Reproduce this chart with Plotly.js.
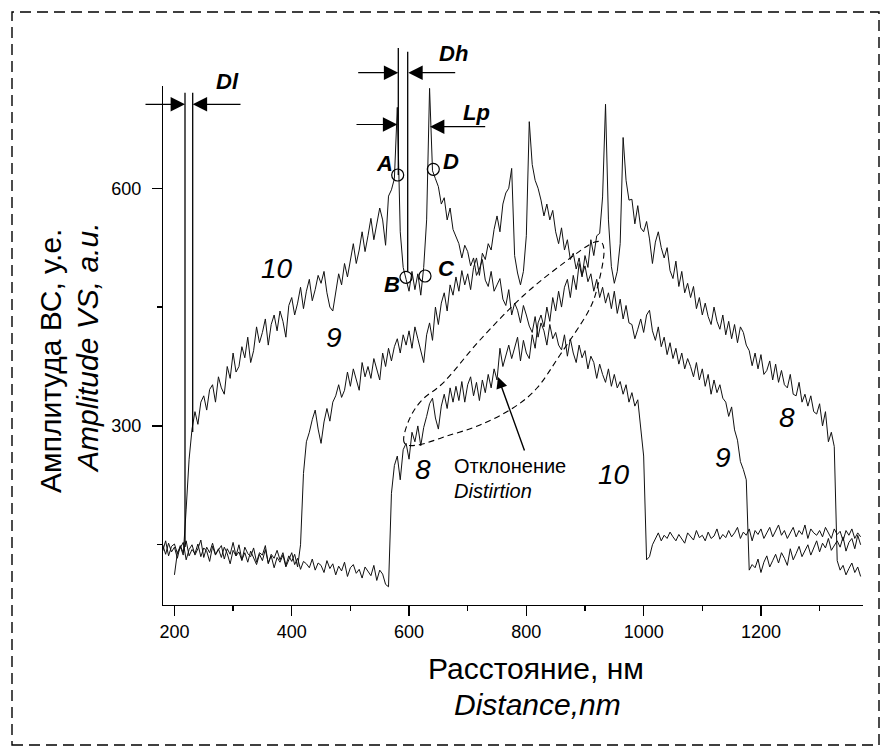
<!DOCTYPE html>
<html><head><meta charset="utf-8">
<script src="https://cdn.plot.ly/plotly-3.0.1.min.js"></script>
<style>html,body{margin:0;padding:0;background:#fff}</style>
</head><body>
<div id="chart" style="width:885px;height:752px"></div>
<script>
// ---- data (amplitude, a.u.) sampled every 5 nm ----
const stepNm = 5;
const start8 = 180, start9 = 180, start10 = 200;
const amp8 = [
150,138,152,141,147,133,149,140,155,136,
144,139,151,135,146,142,129,148,137,145,
134,147,139,126,143,136,150,131,140,128,
142,133,125,138,130,144,127,136,121,134,
128,137,122,131,140,125,133,119,129,126,
121,132,118,127,124,115,130,120,126,112,
123,117,128,110,121,125,114,119,108,122,
116,111,124,105,118,113,100,97,215,250,
262,232,270,278,258,292,280,300,275,298,
312,328,335,310,296,325,340,322,348,330,
350,332,356,330,352,362,338,355,332,358,
342,365,348,372,358,398,375,390,402,385,
400,412,382,408,392,385,415,398,430,440,
425,450,432,462,445,470,450,475,485,462,
490,472,505,488,515,500,535,515,540,543,
589,706,560,501,480,495,530,664,610,585,
586,555,578,550,545,558,536,505,532,545,
525,512,525,496,486,508,476,495,468,480,
462,476,448,462,440,455,438,428,450,432,
422,440,415,432,410,428,405,425,418,402,
395,376,392,372,390,365,370,382,358,378,
355,370,352,348,365,340,338,355,330,340,
325,338,318,315,328,300,318,280,292,274,
130,118,124,112,120,127,115,122,110];
const amp9 = [
142,155,136,148,151,139,146,153,131,144,
150,137,145,156,134,147,140,152,138,143,
149,132,145,138,153,136,141,130,147,139,
135,146,128,140,137,149,126,138,133,143,
131,140,124,136,129,138,122,150,240,280,
292,308,320,296,278,305,322,306,330,338,
352,336,345,368,350,372,358,345,380,362,
375,360,385,370,358,392,375,398,382,400,
410,392,415,402,420,398,425,410,395,380,
415,430,408,450,428,455,468,445,478,465,
488,470,496,478,492,472,500,512,490,518,
510,530,522,548,565,545,580,594,600,625,
515,493,478,495,540,684,630,610,600,585,
565,580,560,572,545,530,550,522,535,510,
518,498,512,490,502,482,492,470,485,462,
475,455,468,448,470,442,460,435,452,430,
428,410,422,435,418,440,446,420,408,425,
400,412,390,405,385,398,378,392,372,385,
375,362,380,358,372,350,365,340,358,342,
352,335,330,312,324,295,282,255,245,232,
118,125,121,132,115,128,136,122,130,138,
127,140,133,124,145,131,139,148,135,142,
150,137,145,155,141,152,146,158,143,150,
155,147,160,142,153,158,145,162,150];
const amp10 = [
112,140,148,137,195,258,296,318,302,330,
338,320,346,352,330,362,348,340,375,360,
392,368,375,400,386,412,380,395,425,405,
418,435,402,428,440,420,445,432,412,452,
462,440,455,475,448,470,485,458,472,490,
480,495,468,450,445,470,492,478,505,488,
512,530,505,522,545,520,540,562,535,555,
575,560,528,590,598,612,702,545,500,485,
470,495,472,492,465,500,560,726,622,612,
602,580,588,560,575,548,538,530,512,528,
520,502,512,490,498,510,484,476,495,470,
478,486,460,452,472,440,455,446,430,452,
440,426,418,438,412,430,420,402,428,410,
418,402,396,415,388,410,392,380,402,386,
395,372,388,380,360,378,365,355,372,350,
365,348,356,340,352,330,342,325,333,300,
262,131,135,150,158,165,155,162,158,166,
160,155,163,158,152,165,160,156,168,159,
162,155,166,158,161,170,157,163,159,168,
160,165,172,158,166,162,170,155,168,163,
170,158,165,172,160,167,175,162,168,158,
165,172,160,168,163,175,158,170,165,162,
168,160,172,165,158,170,163,167,155,168,
162,170,158,165,160];
const xRange = [180.5, 1374];
const yRange = [74, 729];
const xTicks = [200, 400, 600, 800, 1000, 1200];
const yTicks = [300, 600];

// ---- layout helpers (pixel -> paper) ----
const W = 885, H = 752, ML = 163, MR = 22, MT = 86, MB = 147;
const PW = W - ML - MR, PH = H - MT - MB;
const fx = p => (p - ML) / PW;
const fy = p => (H - MB - p) / PH;
const FONT = 'Liberation Sans, Arial, sans-serif';

function trace(y, x0) {
  return {type:'scatter', mode:'lines', y:y, x0:x0, dx:stepNm,
          line:{color:'#111', width:1}, hoverinfo:'skip', showlegend:false};
}
const data = [trace(amp8, start8), trace(amp9, start9), trace(amp10, start10)];

function vline(xp, y0p, y1p) {
  return {type:'line', xref:'paper', yref:'paper', x0:fx(xp), x1:fx(xp), y0:fy(y0p), y1:fy(y1p),
          line:{color:'#000', width:1.3}};
}
function circ(cx, cy) {
  const r = 6;
  return {type:'circle', xref:'paper', yref:'paper', x0:fx(cx-r), x1:fx(cx+r), y0:fy(cy+r), y1:fy(cy-r),
          line:{color:'#000', width:1.2}};
}
function smoothClosed(pts) {
  const n = pts.length;
  let d = 'M' + fx(pts[0][0]) + ',' + fy(pts[0][1]);
  for (let i = 0; i < n; i++) {
    const p0 = pts[(i-1+n)%n], p1 = pts[i], p2 = pts[(i+1)%n], p3 = pts[(i+2)%n];
    const c1 = [p1[0]+(p2[0]-p0[0])/6, p1[1]+(p2[1]-p0[1])/6];
    const c2 = [p2[0]-(p3[0]-p1[0])/6, p2[1]-(p3[1]-p1[1])/6];
    d += ' C' + fx(c1[0]) + ',' + fy(c1[1]) + ' ' + fx(c2[0]) + ',' + fy(c2[1]) + ' ' + fx(p2[0]) + ',' + fy(p2[1]);
  }
  return d + ' Z';
}
const loopPts = [[404,442],[409,420],[422,400],[445,381],[480,340],[523,296],[565,262],[595,242],[604,250],
                 [598,285],[588,312],[560,355],[537,388],[513,408],[480,425],[447,436],[418,445]];

const shapes = [
  {type:'rect', xref:'paper', yref:'paper', x0:fx(12), x1:fx(879), y0:fy(745), y1:fy(12),
   line:{color:'#000', width:1.4, dash:'11px,6px'}},
  vline(185, 92.7, 547), vline(192.7, 92.7, 432),
  vline(398.3, 48, 175), vline(407.7, 51.7, 271),
  circ(397.7, 175), circ(406, 277.3), circ(425, 276), circ(433.3, 169.3),
  {type:'path', xref:'paper', yref:'paper', path:smoothClosed(loopPts),
   line:{color:'#000', width:1.1, dash:'6px,4px'}}
];

function arrow(tx, ty, sx, sy, head, size, w) {
  return {xref:'paper', yref:'paper', x:fx(tx), y:fy(ty), ax:sx-tx, ay:sy-ty, axref:'pixel', ayref:'pixel',
          text:'', showarrow:true, arrowhead:head, arrowsize:size, arrowwidth:w, arrowcolor:'#000',
          standoff:0, startstandoff:0};
}
function label(t, xp, yp, size, extra) {
  return Object.assign({xref:'paper', yref:'paper', x:fx(xp), y:fy(yp), text:t, showarrow:false,
          xanchor:'center', yanchor:'middle', font:{family:FONT, size:size, color:'#000'}}, extra || {});
}
const annotations = [
  arrow(185, 104.3, 144, 104.3, 2, 2.4, 1.2), arrow(192.7, 104.3, 242, 104.3, 2, 2.4, 1.2),
  arrow(398.3, 72.7, 356.7, 72.7, 2, 2.4, 1.2), arrow(408.3, 72.7, 456.7, 72.7, 2, 2.4, 1.2),
  arrow(397.3, 124.5, 355, 124.5, 2, 2.4, 1.2), arrow(430, 126.7, 486.7, 126.7, 2, 2.4, 1.2),
  arrow(498, 377, 525, 452, 2, 1.6, 1.4),
  label('<b><i>Dl</i></b>', 227, 82, 22),
  label('<b><i>Dh</i></b>', 453, 53, 22),
  label('<b><i>Lp</i></b>', 476, 112, 22),
  label('<b><i>A</i></b>', 384, 163, 22),
  label('<b><i>B</i></b>', 392, 284, 22),
  label('<b><i>C</i></b>', 446, 268, 22),
  label('<b><i>D</i></b>', 451, 161, 22),
  label('<i>10</i>', 277, 268, 28),
  label('<i>9</i>', 334, 337, 28),
  label('<i>8</i>', 423, 469, 28),
  label('<i>10</i>', 614, 475, 28),
  label('<i>9</i>', 723, 457, 28),
  label('<i>8</i>', 787, 417, 28),
  label('Отклонение', 452, 466, 20, {xanchor:'left'}),
  label('<i>Distirtion</i>', 452, 491, 20, {xanchor:'left'}),
  label('Расстояние, нм', 536, 668, 30),
  label('<i>Distance,nm</i>', 537, 704, 30),
  label('Амплитуда ВС, у.е.', 51, 361, 30, {textangle:-90}),
  label('<i>Amplitude VS, a.u.</i>', 88, 348, 30, {textangle:-90})
];

const axisCommon = {showgrid:false, zeroline:false, showline:true, linecolor:'#000', linewidth:1.2,
  ticks:'outside', ticklen:10, tickwidth:1.2, tickcolor:'#000',
  tickfont:{family:FONT, size:18, color:'#000'}, fixedrange:true};
const layout = {
  width:W, height:H, margin:{l:ML, r:MR, t:MT, b:MB, pad:0},
  paper_bgcolor:'#fff', plot_bgcolor:'#fff', showlegend:false,
  font:{family:FONT, color:'#000'},
  xaxis: Object.assign({}, axisCommon, {range:xRange, tickmode:'array', tickvals:xTicks,
     ticktext:xTicks.map(String),
     minor:{dtick:100, tick0:0, ticks:'outside', ticklen:5, tickwidth:1.2, tickcolor:'#000'}}),
  yaxis: Object.assign({}, axisCommon, {range:yRange, tickmode:'array', tickvals:yTicks,
     ticktext:yTicks.map(String), ticklabelstandoff:7,
     minor:{dtick:150, tick0:0, ticks:'outside', ticklen:5, tickwidth:1.2, tickcolor:'#000'}}),
  shapes:shapes, annotations:annotations
};
Plotly.newPlot('chart', data, layout, {staticPlot:true, displayModeBar:false});
</script>
</body></html>
